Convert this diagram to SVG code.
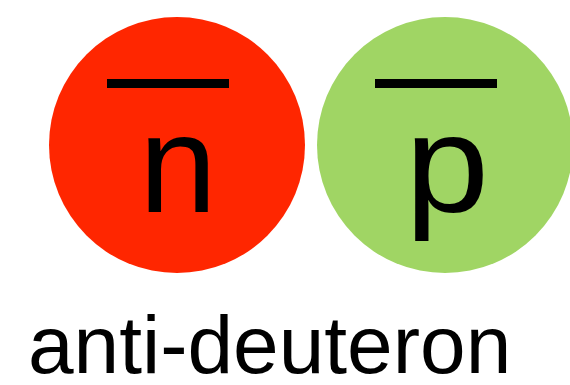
<svg xmlns="http://www.w3.org/2000/svg" width="570" height="385" viewBox="0 0 570 385">
<style>
.lbl{font-family:"Liberation Sans",Arial,Helvetica,sans-serif;fill:#000}
.sym{font-size:140px;text-anchor:middle}
.bar{fill:#000}
</style>
<rect width="570" height="385" fill="#fff"/>
<g id="antineutron">
<circle cx="177" cy="145" r="128" fill="#ff2600"/>
<rect class="bar" x="107" y="79" width="122" height="9"/>
<text class="lbl sym" x="178" y="212">n</text>
</g>
<g id="antiproton">
<circle cx="445" cy="145" r="128" fill="#a0d564"/>
<rect class="bar" x="375" y="79" width="122" height="9"/>
<text class="lbl sym" transform="translate(447,212) scale(1.08,1)" x="0" y="0">p</text>
</g>
<g id="connectors"/>
<text class="lbl" x="28" y="373" font-size="82">anti-deuteron</text>
</svg>
